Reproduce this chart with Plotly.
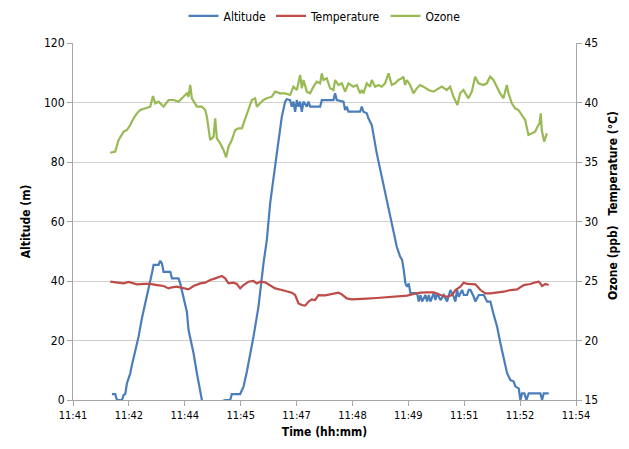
import plotly.graph_objects as go
import numpy as np

# Time in decimal minutes after 11:00
alt_time = [42.006, 42.092, 42.136, 42.265, 42.308, 42.351, 42.394, 42.480, 42.523, 42.609,
            42.695, 42.781, 42.868, 42.997, 43.040, 43.083, 43.212, 43.255, 43.298, 43.341,
            43.514, 43.557, 43.728, 43.771, 43.857, 43.943, 43.986, 44.116, 44.202, 44.331,
            44.55, 44.72, 44.933, 45.062, 45.105, 45.321, 45.407, 45.493, 45.665, 45.794,
            45.923, 46.010, 46.095, 46.181, 46.268, 46.397, 46.483, 46.526, 46.612, 46.655,
            46.698, 46.741, 46.785, 46.828, 46.871, 46.914, 46.957, 47.043, 47.086, 47.129,
            47.387, 47.430, 47.731, 47.774, 47.817, 47.990, 48.033, 48.076, 48.119, 48.420,
            48.463, 48.506, 48.592, 48.635, 48.722, 48.851, 48.980, 49.109, 49.239, 49.368,
            49.454, 49.505, 49.548, 49.591, 49.634, 49.677, 49.720, 49.893, 49.936, 49.979,
            50.022, 50.108, 50.151, 50.194, 50.237, 50.324, 50.367, 50.410, 50.496, 50.582,
            50.668, 50.754, 50.840, 50.883, 50.926, 50.969, 51.013, 51.056, 51.099, 51.185,
            51.228, 51.271, 51.357, 51.400, 51.487, 51.616, 51.702, 51.788, 51.874, 51.960,
            52.046, 52.132, 52.219, 52.305, 52.391, 52.434, 52.520, 52.563, 52.606, 52.666,
            52.718, 52.778, 53.080, 53.123, 53.166, 53.295]
altitude = [2.0, 2.0, 0.0, 0.0, 1.7, 2.0, 5.6, 9.0, 11.8, 16.3,
            21.3, 27.5, 32.5, 39.2, 42.6, 45.4, 45.4, 46.8, 45.9, 43.1,
            43.1, 40.9, 40.9, 39.2, 34.2, 29.7, 23.5, 15.7, 9.0, 0.0,
            -5.0, -1.0, 0.0, 0.0, 2.0, 2.0, 4.5, 9.5, 21.3, 31.4,
            45.9, 53.8, 66.1, 75.1, 82.9, 95.2, 100.3, 101.1, 100.8, 98.6,
            100.3, 96.9, 100.8, 98.6, 100.3, 96.9, 100.3, 98.6, 100.3, 98.6,
            98.6, 100.8, 100.8, 103.1, 100.8, 100.3, 97.5, 98.6, 96.9, 96.9,
            98.6, 96.9, 96.4, 94.7, 92.4, 82.9, 75.1, 67.2, 59.4, 51.5,
            48.2, 47.1, 43.7, 39.2, 38.1, 39.2, 35.9, 35.9, 33.1, 35.3,
            33.1, 35.3, 33.1, 35.3, 33.1, 35.9, 33.6, 35.9, 33.6, 35.3,
            33.1, 37.0, 34.7, 33.1, 37.0, 34.7, 35.9, 37.0, 35.3, 35.3,
            37.0, 37.0, 34.7, 33.1, 35.3, 35.3, 33.1, 33.1, 28.6, 24.7,
            19.1, 13.5, 9.0, 6.7, 6.2, 4.5, 3.9, 0.0, 2.2, 2.2,
            0.0, 2.2, 2.2, 0.0, 2.2, 2.2]

temp_time = [41.963, 42.136, 42.308, 42.437, 42.566, 42.652, 42.825, 42.997, 43.169, 43.341,
             43.471, 43.557, 43.685, 43.814, 43.986, 44.116, 44.288, 44.417, 44.546, 44.675,
             44.847, 44.933, 45.019, 45.148, 45.235, 45.321, 45.407, 45.536, 45.665, 45.751,
             45.837, 45.966, 46.095, 46.225, 46.397, 46.526, 46.655, 46.741, 46.828, 46.914,
             47.000, 47.086, 47.172, 47.258, 47.344, 47.516, 47.645, 47.774, 47.861, 47.947,
             48.076, 48.205, 48.420, 48.592, 48.850, 49.109, 49.368, 49.634, 49.806, 49.979,
             50.151, 50.324, 50.496, 50.668, 50.797, 50.883, 51.013, 51.099, 51.185, 51.314,
             51.400, 51.530, 51.659, 51.788, 51.960, 52.132, 52.305, 52.477, 52.649, 52.821,
             52.950, 53.037, 53.080, 53.123, 53.209, 53.295]
temperature = [24.94, 24.86, 24.80, 24.92, 24.80, 24.72, 24.75, 24.75, 24.66, 24.58,
               24.38, 24.47, 24.52, 24.44, 24.30, 24.58, 24.80, 24.86, 25.08, 25.22,
               25.42, 25.22, 24.80, 24.86, 24.75, 24.38, 24.66, 24.94, 25.00, 24.80,
               24.94, 24.89, 24.66, 24.38, 24.24, 24.10, 24.02, 23.82, 23.12, 22.98,
               22.93, 23.26, 23.46, 23.40, 23.82, 23.80, 23.88, 23.91, 24.02, 23.88,
               23.54, 23.46, 23.46, 23.52, 23.57, 23.63, 23.68, 23.77, 23.91, 24.02,
               24.05, 24.05, 23.82, 23.68, 23.82, 24.24, 24.52, 24.86, 24.75, 24.72,
               24.72, 24.24, 23.96, 23.96, 24.02, 24.10, 24.24, 24.30, 24.66, 24.75,
               24.89, 24.94, 24.80, 24.58, 24.75, 24.66]

ozone_time = [41.963, 42.092, 42.179, 42.308, 42.394, 42.480, 42.566, 42.652, 42.739, 42.868,
              42.997, 43.066, 43.126, 43.212, 43.342, 43.471, 43.600, 43.728, 43.857, 43.943,
              43.986, 44.029, 44.073, 44.202, 44.331, 44.417, 44.460, 44.503, 44.546, 44.632,
              44.675, 44.718, 44.804, 44.890, 44.959, 45.019, 45.105, 45.191, 45.278, 45.364,
              45.493, 45.622, 45.708, 45.751, 45.837, 45.923, 46.010, 46.139, 46.225, 46.354,
              46.483, 46.612, 46.698, 46.785, 46.871, 46.914, 46.957, 47.043, 47.129, 47.215,
              47.301, 47.387, 47.430, 47.473, 47.559, 47.645, 47.731, 47.774, 47.861, 47.947,
              48.033, 48.119, 48.248, 48.334, 48.420, 48.463, 48.506, 48.592, 48.678, 48.722,
              48.808, 48.894, 48.980, 49.066, 49.153, 49.239, 49.325, 49.411, 49.497, 49.540,
              49.584, 49.627, 49.713, 49.799, 49.885, 49.971, 50.057, 50.187, 50.316, 50.445,
              50.531, 50.660, 50.746, 50.832, 50.936, 51.005, 51.091, 51.220, 51.307, 51.393,
              51.479, 51.608, 51.694, 51.780, 51.867, 51.953, 52.039, 52.125, 52.211, 52.255,
              52.341, 52.427, 52.513, 52.599, 52.685, 52.772, 52.858, 52.944, 53.004, 53.056,
              53.090, 53.116, 53.176, 53.245]
ozone = [35.78, 35.87, 36.85, 37.55, 37.69, 38.11, 38.67, 39.09, 39.37, 39.51,
         39.65, 40.55, 39.93, 40.07, 39.65, 40.21, 40.21, 40.07, 40.49, 40.77,
         40.49, 41.47, 40.35, 39.65, 39.65, 39.37, 38.81, 37.97, 36.85, 37.13,
         38.67, 36.99, 36.57, 36.01, 35.39, 36.29, 36.85, 37.69, 37.83, 37.83,
         39.09, 40.21, 40.35, 39.65, 39.93, 40.21, 40.35, 40.49, 40.91, 40.77,
         40.77, 40.63, 41.33, 41.05, 42.31, 41.19, 41.89, 40.91, 40.77, 41.33,
         41.75, 41.61, 42.45, 41.89, 42.03, 41.19, 41.05, 41.89, 41.47, 41.61,
         40.91, 41.61, 41.33, 41.47, 40.77, 41.05, 40.77, 41.61, 41.33, 41.89,
         41.33, 41.47, 41.33, 41.61, 42.45, 41.47, 41.61, 41.89, 42.03, 42.17,
         41.47, 41.89, 41.47, 40.77, 41.19, 41.47, 41.33, 41.05, 40.91, 41.19,
         41.33, 41.05, 41.33, 40.49, 39.79, 40.77, 41.05, 40.35, 40.91, 42.17,
         41.61, 41.47, 41.61, 42.17, 41.89, 41.33, 40.77, 40.35, 41.47, 40.77,
         39.93, 39.51, 39.37, 38.95, 38.53, 37.27, 37.41, 37.55, 37.97, 38.25,
         39.09, 37.69, 36.71, 37.41]

x_tick_labels = ["11:41", "11:42", "11:44", "11:45", "11:47", "11:48", "11:49", "11:51", "11:52", "11:54"]
x_tick_vals = list(np.linspace(41, 54, len(x_tick_labels)))

FONT = "DejaVu Sans Condensed, Liberation Sans Narrow, sans-serif"
AXIS_COLOR = "#A6A6A6"
GRID_COLOR = "#D0D0D0"

fig = go.Figure()
fig.add_trace(go.Scatter(x=alt_time, y=altitude, name="Altitude", mode="lines",
                         line=dict(color="#4A7EBB", width=2.2), yaxis="y"))
fig.add_trace(go.Scatter(x=temp_time, y=temperature, name="Temperature", mode="lines",
                         line=dict(color="#BE4B48", width=2.2), yaxis="y2"))
fig.add_trace(go.Scatter(x=ozone_time, y=ozone, name="Ozone", mode="lines",
                         line=dict(color="#98B954", width=2.2), yaxis="y2"))

# page body has an 8px default margin, so the figure is sized/offset to compensate
fig.update_layout(
    width=621, height=441,
    margin=dict(l=65, r=53, t=35, b=49, autoexpand=False),
    paper_bgcolor="white", plot_bgcolor="white",
    font=dict(family=FONT, size=11, color="#000000"),
    showlegend=True,
    legend=dict(orientation="h", x=0.5, xanchor="center", y=1.076, yanchor="middle",
                font=dict(size=12), itemwidth=30, tracegroupgap=0),
    xaxis=dict(range=[41, 54], tickvals=x_tick_vals, ticktext=x_tick_labels,
               showgrid=False, zeroline=False, showline=True, linecolor=AXIS_COLOR,
               ticks="outside", ticklen=5, tickcolor=AXIS_COLOR, automargin=False,
               tickfont=dict(size=11),
               title=dict(text="<b>Time (hh:mm)</b>", font=dict(size=12), standoff=6)),
    yaxis=dict(range=[0, 120], dtick=20, showgrid=True, gridcolor=GRID_COLOR,
               zeroline=False, showline=True, linecolor=AXIS_COLOR, automargin=False,
               ticks="outside", ticklen=5, tickcolor=AXIS_COLOR,
               tickfont=dict(size=12),
               title=dict(text="<b>Altitude (m)</b>", font=dict(size=12), standoff=10)),
    yaxis2=dict(range=[15, 45], dtick=5, overlaying="y", side="right",
                showgrid=False, zeroline=False, showline=True, linecolor=AXIS_COLOR,
                ticks="outside", ticklen=5, tickcolor=AXIS_COLOR, automargin=False,
                tickfont=dict(size=12)),
    annotations=[
        dict(text="<b>Temperature (°C)</b>", textangle=-90, xref="paper", yref="paper",
             x=1.0736, y=0.6625, xanchor="center", yanchor="middle", showarrow=False,
             font=dict(size=12)),
        dict(text="<b>Ozone (ppb)</b>", textangle=-90, xref="paper", yref="paper",
             x=1.0736, y=0.3838, xanchor="center", yanchor="middle", showarrow=False,
             font=dict(size=12)),
    ],
)

fig.write_html("out.html")
